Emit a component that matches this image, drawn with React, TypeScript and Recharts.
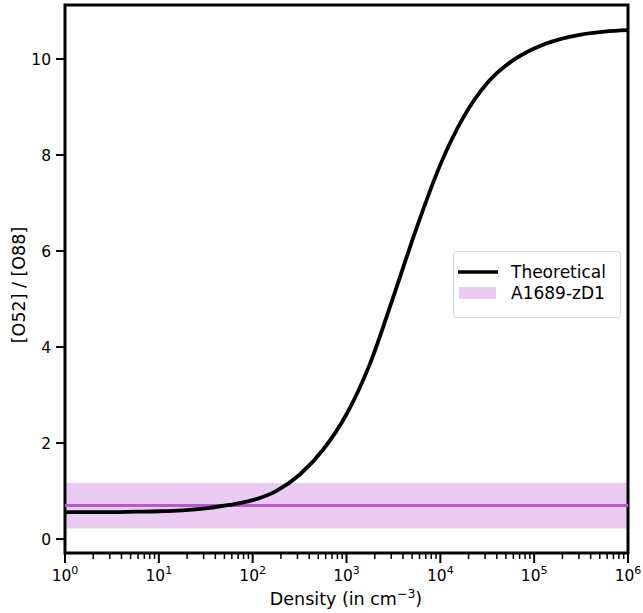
import { ComposedChart, Line, XAxis, YAxis, ReferenceArea, ReferenceLine } from "recharts";

// density grid (cm^-3) and the theoretical line ratio
const density = [
  1, 1.778, 3.162, 5.623, 10, 17.78, 31.62, 56.23, 100, 177.8, 316.2, 562.3,
  1000, 1778, 3162, 5623, 10000, 17783, 31623, 56234, 100000, 177828, 316228,
  562341, 1000000,
];
const ratio = [
  0.56, 0.56, 0.56, 0.57, 0.58, 0.6, 0.64, 0.71, 0.81, 1.0, 1.34, 1.86, 2.6,
  3.65, 5.05, 6.5, 7.8, 8.8, 9.5, 9.94, 10.22, 10.4, 10.51, 10.57, 10.6,
];

// observed ratio for A1689-zD1 and its 1-sigma band
const observed = 0.7;
const observedLow = 0.22;
const observedHigh = 1.17;

const xDomain = [1, 1000000];
const yDomain = [-0.29, 11.125];
const majorTicks = [1, 10, 100, 1000, 10000, 100000, 1000000];
const yTicks = [0, 2, 4, 6, 8, 10];

const seriesNames = ["Theoretical", "A1689-zD1"];

const minorTicks = majorTicks
  .slice(0, -1)
  .flatMap((m) => [2, 3, 4, 5, 6, 7, 8, 9].map((k) => k * m));
const xTicks = [...majorTicks, ...minorTicks].sort((a, b) => a - b);

const data = density.map((d, i) => ({ d, ratio: ratio[i] }));

const FONT = "DejaVu Sans";
const ORCHID = "#BA55D3";

const XTick = ({ x, y, payload }: any) => {
  const lg = Math.log10(payload.value);
  const exp = Math.round(lg);
  const isMajor = Math.abs(lg - exp) < 1e-6;
  return (
    <g>
      <line
        x1={x}
        x2={x}
        y1={y}
        y2={y + (isMajor ? 10 : 6)}
        stroke="#000"
        strokeWidth={isMajor ? 2 : 1.5}
      />
      {isMajor && (
        <text x={x} y={y + 28} textAnchor="middle" fontSize={15.5} fontFamily={FONT} fill="#000">
          <tspan>10</tspan>
          <tspan dy={-7} fontSize={11}>
            {exp}
          </tspan>
        </text>
      )}
    </g>
  );
};

const LegendBox = () => (
  <svg width={168} height={67} style={{ display: "block" }}>
    <rect x={0.5} y={0.5} width={167} height={66} rx={3} fill="rgba(255,255,255,0.8)" stroke="#d6d6d6" />
    <line x1={5} x2={45} y1={21} y2={21} stroke="#000" strokeWidth={3.5} />
    <text x={58} y={27} fontSize={17} fontFamily={FONT} fill="#000">
      {seriesNames[0]}
    </text>
    <rect x={6} y={36} width={37} height={12} fill={ORCHID} fillOpacity={0.3} />
    <text x={58} y={48} fontSize={17} fontFamily={FONT} fill="#000">
      {seriesNames[1]}
    </text>
  </svg>
);

export default function App() {
  return (
    <div style={{ position: "absolute", left: 0, top: 0, width: 643, height: 613 }}>
      <ComposedChart
        width={643}
        height={613}
        data={data}
        margin={{ top: 5, right: 15, bottom: 0, left: 0 }}
      >
        <XAxis
          dataKey="d"
          type="number"
          scale="log"
          domain={xDomain}
          allowDataOverflow
          ticks={xTicks}
          interval={0}
          tick={<XTick />}
          tickLine={false}
          tickSize={0}
          tickMargin={0}
          height={60}
          axisLine={false}
          label={{
            content: () => (
              <text x={346} y={605} textAnchor="middle" fontSize={17.5} fontFamily={FONT} fill="#000">
                <tspan>Density (in cm</tspan>
                <tspan dy={-7} fontSize={12.5}>
                  −3
                </tspan>
                <tspan dy={7}>)</tspan>
              </text>
            ),
          }}
        />
        <YAxis
          type="number"
          domain={yDomain}
          allowDataOverflow
          ticks={yTicks}
          width={65}
          tickSize={9}
          tickMargin={5}
          tickLine={{ stroke: "#000", strokeWidth: 2 }}
          tick={{ fill: "#000", fontSize: 15.5, fontFamily: FONT }}
          axisLine={false}
          label={{
            content: () => (
              <text
                x={25}
                y={285}
                transform="rotate(-90 25 285)"
                textAnchor="middle"
                fontSize={17.5}
                fontFamily={FONT}
                fill="#000"
              >
                [O52] / [O88]
              </text>
            ),
          }}
        />
        <ReferenceArea
          y1={observedLow}
          y2={observedHigh}
          fill={ORCHID}
          fillOpacity={0.3}
          stroke="none"
        />
        <ReferenceLine y={observed} stroke={ORCHID} strokeWidth={3} />
        <Line
          dataKey="ratio"
          type="monotone"
          stroke="#000"
          strokeWidth={3.8}
          dot={false}
          isAnimationActive={false}
        />
        <ReferenceArea
          x1={xDomain[0]}
          x2={xDomain[1]}
          y1={yDomain[0]}
          y2={yDomain[1]}
          fill="none"
          fillOpacity={0}
          stroke="#000"
          strokeWidth={3}
        />
      </ComposedChart>
      <div style={{ position: "absolute", left: 453, top: 251 }}>
        <LegendBox />
      </div>
    </div>
  );
}
